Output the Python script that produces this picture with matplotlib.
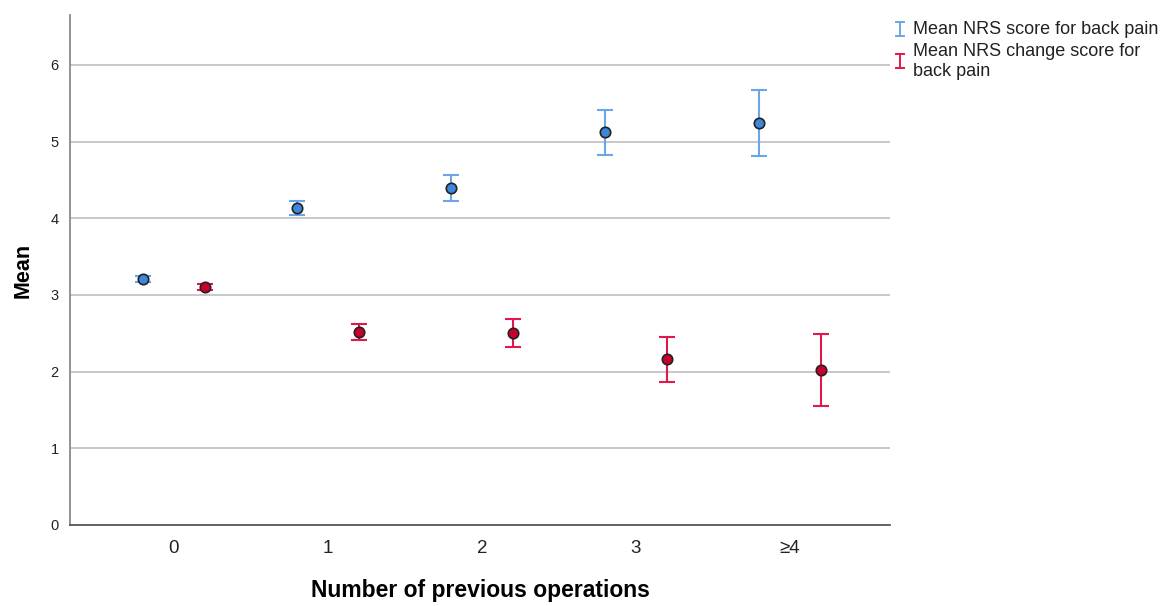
import matplotlib
matplotlib.use("Agg")
import matplotlib.pyplot as plt
from matplotlib.lines import Line2D

plt.rcParams['font.family'] = ['Liberation Sans', 'DejaVu Sans']

categories = ["0", "1", "2", "3", "\u22654"]

score_mean = [3.21, 4.13, 4.40, 5.13, 5.24]
score_low = [3.17, 4.04, 4.23, 4.83, 4.81]
score_high = [3.25, 4.22, 4.56, 5.41, 5.67]

change_mean = [3.10, 2.52, 2.50, 2.17, 2.02]
change_low = [3.06, 2.41, 2.32, 1.87, 1.55]
change_high = [3.14, 2.62, 2.69, 2.45, 2.49]

label_score = "Mean NRS score for back pain"
label_change = ["Mean NRS change score for", "back pain"]

blue_bar = "#6aa6ea"
blue_fill = "#3d86d8"
red_bar = "#e0184c"
red_fill = "#c8002e"
edge = "#222222"

fig = plt.figure(figsize=(11.68, 6.06), dpi=100)
ax = fig.add_axes([0.0599, 0.1337, 0.7021, 0.8413])

x = list(range(len(categories)))
offset = 0.2


def draw(series_mean, lo, hi, shift, bar_color, fill):
    xs = [i + shift for i in x]
    yerr = [[m - l for m, l in zip(series_mean, lo)],
            [h - m for m, h in zip(series_mean, hi)]]
    ax.errorbar(xs, series_mean, yerr=yerr, fmt='none', ecolor=bar_color,
                elinewidth=1.5, capsize=5.8, capthick=1.5, zorder=3)
    ax.plot(xs, series_mean, 'o', ms=7.5, mfc=fill, mec=edge, mew=1.2,
            linestyle='none', zorder=4)


draw(score_mean, score_low, score_high, -offset, blue_bar, blue_fill)
draw(change_mean, change_low, change_high, offset, red_bar, red_fill)

ax.set_xlim(-0.675, 4.65)
ax.set_ylim(0, 6.65)
ax.set_yticks(range(0, 7))
ax.set_xticks(x)
ax.set_xticklabels(categories, fontsize=13.5, color="#222222")
ax.tick_params(axis='y', labelsize=10.5, colors="#222222", length=0, pad=8)
ax.tick_params(axis='x', length=0, pad=11)

for yv in range(1, 7):
    ax.axhline(yv, color="#c8c8c8", lw=1.4, zorder=1)

for side in ("top", "right"):
    ax.spines[side].set_visible(False)
ax.spines['left'].set_color("#8a8a8a")
ax.spines['left'].set_linewidth(1.3)
ax.spines['bottom'].set_color("#555555")
ax.spines['bottom'].set_linewidth(1.3)

ax.set_ylabel("Mean", fontsize=15.5, fontweight='bold', labelpad=12)
ax.set_xlabel("Number of previous operations", fontsize=16.5,
              fontweight='bold', labelpad=16)

W, H = 1168, 606


def legend_marker(ypix, color):
    xc = 900 / W
    y0 = 1 - (ypix - 7) / H
    y1 = 1 - (ypix + 7) / H
    hw = 3.5 / W
    fig.add_artist(Line2D([xc, xc], [y0, y1], color=color, lw=1.4,
                          transform=fig.transFigure))
    for yy in (y0, y1):
        fig.add_artist(Line2D([xc - hw, xc + hw], [yy, yy], color=color,
                              lw=1.4, transform=fig.transFigure))


legend_marker(29, blue_bar)
fig.text(913 / W, 1 - 30 / H, label_score, fontsize=13,
         color="#222222", va='center', ha='left')

legend_marker(61, red_bar)
fig.text(913 / W, 1 - 52 / H, label_change[0],
         fontsize=13, color="#222222", va='center', ha='left')
fig.text(913 / W, 1 - 71 / H, label_change[1],
         fontsize=13, color="#222222", va='center', ha='left')

fig.savefig("out.png", dpi=100)
